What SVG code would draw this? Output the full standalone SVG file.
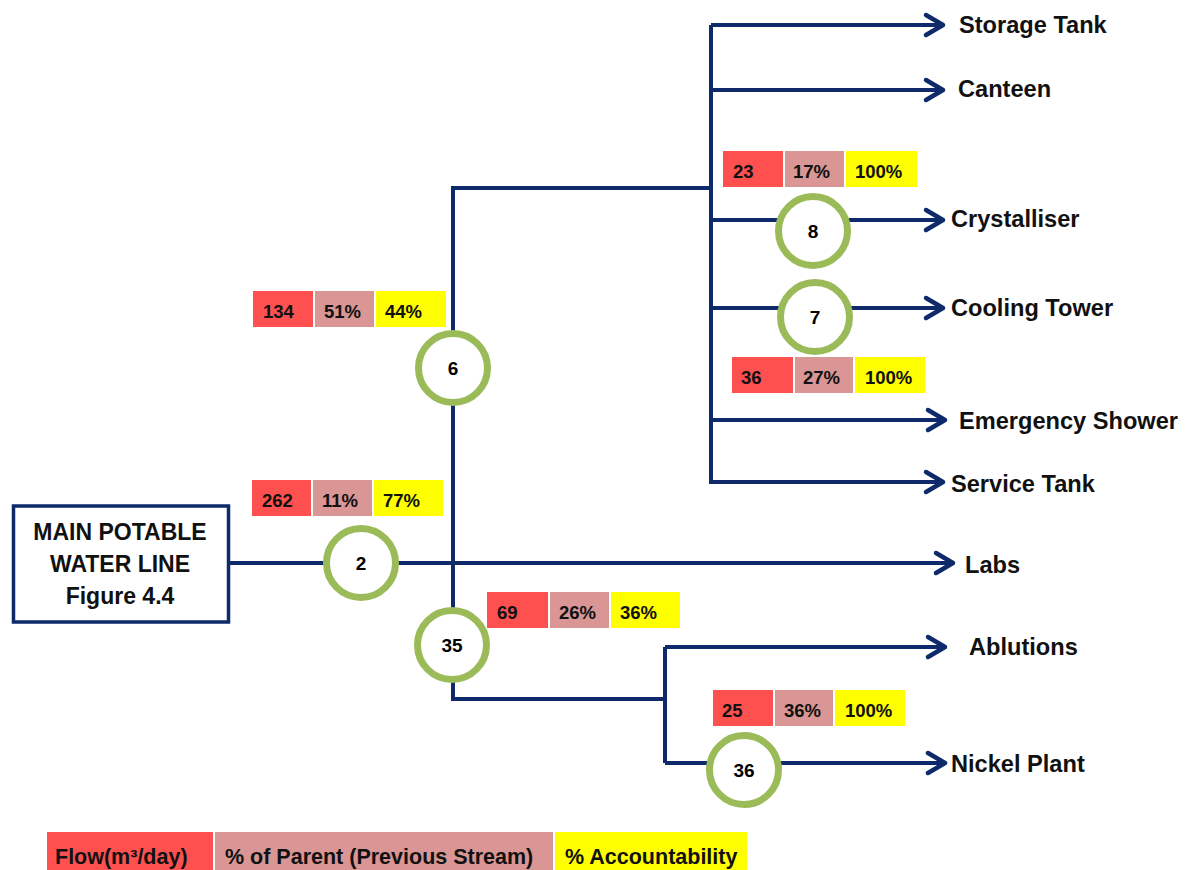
<svg xmlns="http://www.w3.org/2000/svg" width="1190" height="870" viewBox="0 0 1190 870">
<style>
.ln{fill:none;stroke:#0f2a6a;stroke-width:4;}
.circ{fill:#fff;stroke:#9bbb59;stroke-width:7;}
.num{font-family:"Liberation Sans",Arial,sans-serif;font-weight:bold;font-size:19px;fill:#000;text-anchor:middle;}
.dest{font-family:"Liberation Sans",Arial,sans-serif;font-weight:bold;font-size:23.6px;fill:#111;}
.lbl{font-family:"Liberation Sans",Arial,sans-serif;font-weight:bold;font-size:18.5px;fill:#111;}
.leg{font-family:"Liberation Sans",Arial,sans-serif;font-weight:bold;font-size:21.5px;fill:#111;}
.main{font-family:"Liberation Sans",Arial,sans-serif;font-weight:bold;font-size:23px;fill:#111;text-anchor:middle;}
.r{fill:#ff5050;}
.p{fill:#d99694;}
.y{fill:#ffff00;}
</style>
<defs>
<marker id="arr" markerUnits="userSpaceOnUse" markerWidth="30" markerHeight="30" viewBox="-24 -15 30 30" refX="0" refY="0" orient="auto" overflow="visible">
<path d="M-17,-10 L0,0 L-17,10" fill="none" stroke="#0f2a6a" stroke-width="4.5" stroke-linecap="round" stroke-linejoin="round"/>
</marker>
</defs>
<rect width="1190" height="870" fill="#fff"/>
<g id="connectors">
<path class="ln" d="M229,563 H953" marker-end="url(#arr)"/>
<path class="ln" d="M711,188 H453 V699 H665"/>
<path class="ln" d="M665,647 V763"/>
<path class="ln" d="M665,647 H945" marker-end="url(#arr)"/>
<path class="ln" d="M665,763 H945" marker-end="url(#arr)"/>
<path class="ln" d="M711,25 V484"/>
<path class="ln" d="M711,25 H943" marker-end="url(#arr)"/>
<path class="ln" d="M711,90 H943" marker-end="url(#arr)"/>
<path class="ln" d="M711,220 H943" marker-end="url(#arr)"/>
<path class="ln" d="M711,308 H943" marker-end="url(#arr)"/>
<path class="ln" d="M711,420 H945" marker-end="url(#arr)"/>
<path class="ln" d="M709,482 H943" marker-end="url(#arr)"/>
</g>
<g id="main-line">
<rect x="13.5" y="506" width="215" height="116" fill="#fff" stroke="#0f2a6a" stroke-width="3.5"/>
<text class="main" x="120" y="540">MAIN POTABLE</text>
<text class="main" x="120" y="572">WATER LINE</text>
<text class="main" x="120" y="604">Figure 4.4</text>
</g>
<g id="node-2"><circle class="circ" cx="361" cy="563" r="34.5"/><text class="num" x="361" y="570">2</text></g>
<g id="node-6"><circle class="circ" cx="453" cy="368" r="34.5"/><text class="num" x="453" y="375">6</text></g>
<g id="node-35"><circle class="circ" cx="452" cy="645" r="34.5"/><text class="num" x="452" y="652">35</text></g>
<g id="node-8"><circle class="circ" cx="813" cy="231" r="34.5"/><text class="num" x="813" y="238">8</text></g>
<g id="node-7"><circle class="circ" cx="815" cy="317" r="34.5"/><text class="num" x="815" y="324">7</text></g>
<g id="node-36"><circle class="circ" cx="744" cy="770" r="34.5"/><text class="num" x="744" y="777">36</text></g>
<g id="label-134">
<rect class="r" x="253" y="291" width="60" height="36"/><rect class="p" x="315" y="291" width="59" height="36"/><rect class="y" x="376" y="291" width="70" height="36"/>
<text class="lbl" x="263" y="318">134</text><text class="lbl" x="324" y="318">51%</text><text class="lbl" x="385" y="318">44%</text>
</g>
<g id="label-262">
<rect class="r" x="252" y="480" width="59" height="36"/><rect class="p" x="313" y="480" width="59" height="36"/><rect class="y" x="374" y="480" width="69" height="36"/>
<text class="lbl" x="262" y="507">262</text><text class="lbl" x="322" y="507">11%</text><text class="lbl" x="383" y="507">77%</text>
</g>
<g id="label-69">
<rect class="r" x="487" y="592" width="61" height="36"/><rect class="p" x="550" y="592" width="59" height="36"/><rect class="y" x="611" y="592" width="69" height="36"/>
<text class="lbl" x="497" y="619">69</text><text class="lbl" x="559" y="619">26%</text><text class="lbl" x="620" y="619">36%</text>
</g>
<g id="label-23">
<rect class="r" x="723" y="151" width="60" height="36"/><rect class="p" x="785" y="151" width="59" height="36"/><rect class="y" x="846" y="151" width="71" height="36"/>
<text class="lbl" x="733" y="178">23</text><text class="lbl" x="793" y="178">17%</text><text class="lbl" x="855" y="178">100%</text>
</g>
<g id="label-36">
<rect class="r" x="732" y="357" width="61" height="36"/><rect class="p" x="795" y="357" width="58" height="36"/><rect class="y" x="855" y="357" width="70" height="36"/>
<text class="lbl" x="741" y="384">36</text><text class="lbl" x="803" y="384">27%</text><text class="lbl" x="865" y="384">100%</text>
</g>
<g id="label-25">
<rect class="r" x="713" y="690" width="60" height="36"/><rect class="p" x="775" y="690" width="58" height="36"/><rect class="y" x="835" y="690" width="70" height="36"/>
<text class="lbl" x="722" y="717">25</text><text class="lbl" x="784" y="717">36%</text><text class="lbl" x="845" y="717">100%</text>
</g>
<g id="destinations">
<text class="dest" x="959" y="33">Storage Tank</text>
<text class="dest" x="958" y="97">Canteen</text>
<text class="dest" x="951" y="227">Crystalliser</text>
<text class="dest" x="951" y="316">Cooling Tower</text>
<text class="dest" x="959" y="429">Emergency Shower</text>
<text class="dest" x="951" y="492">Service Tank</text>
<text class="dest" x="965" y="573">Labs</text>
<text class="dest" x="969" y="655">Ablutions</text>
<text class="dest" x="951" y="772">Nickel Plant</text>
</g>
<g id="legend">
<rect class="r" x="47" y="832" width="166" height="38"/>
<rect class="p" x="215" y="832" width="338" height="38"/>
<rect class="y" x="555" y="832" width="192" height="38"/>
<text class="leg" x="55" y="864">Flow(m³/day)</text>
<text class="leg" x="225" y="864">% of Parent (Previous Stream)</text>
<text class="leg" x="565" y="864">% Accountability</text>
</g>
</svg>
